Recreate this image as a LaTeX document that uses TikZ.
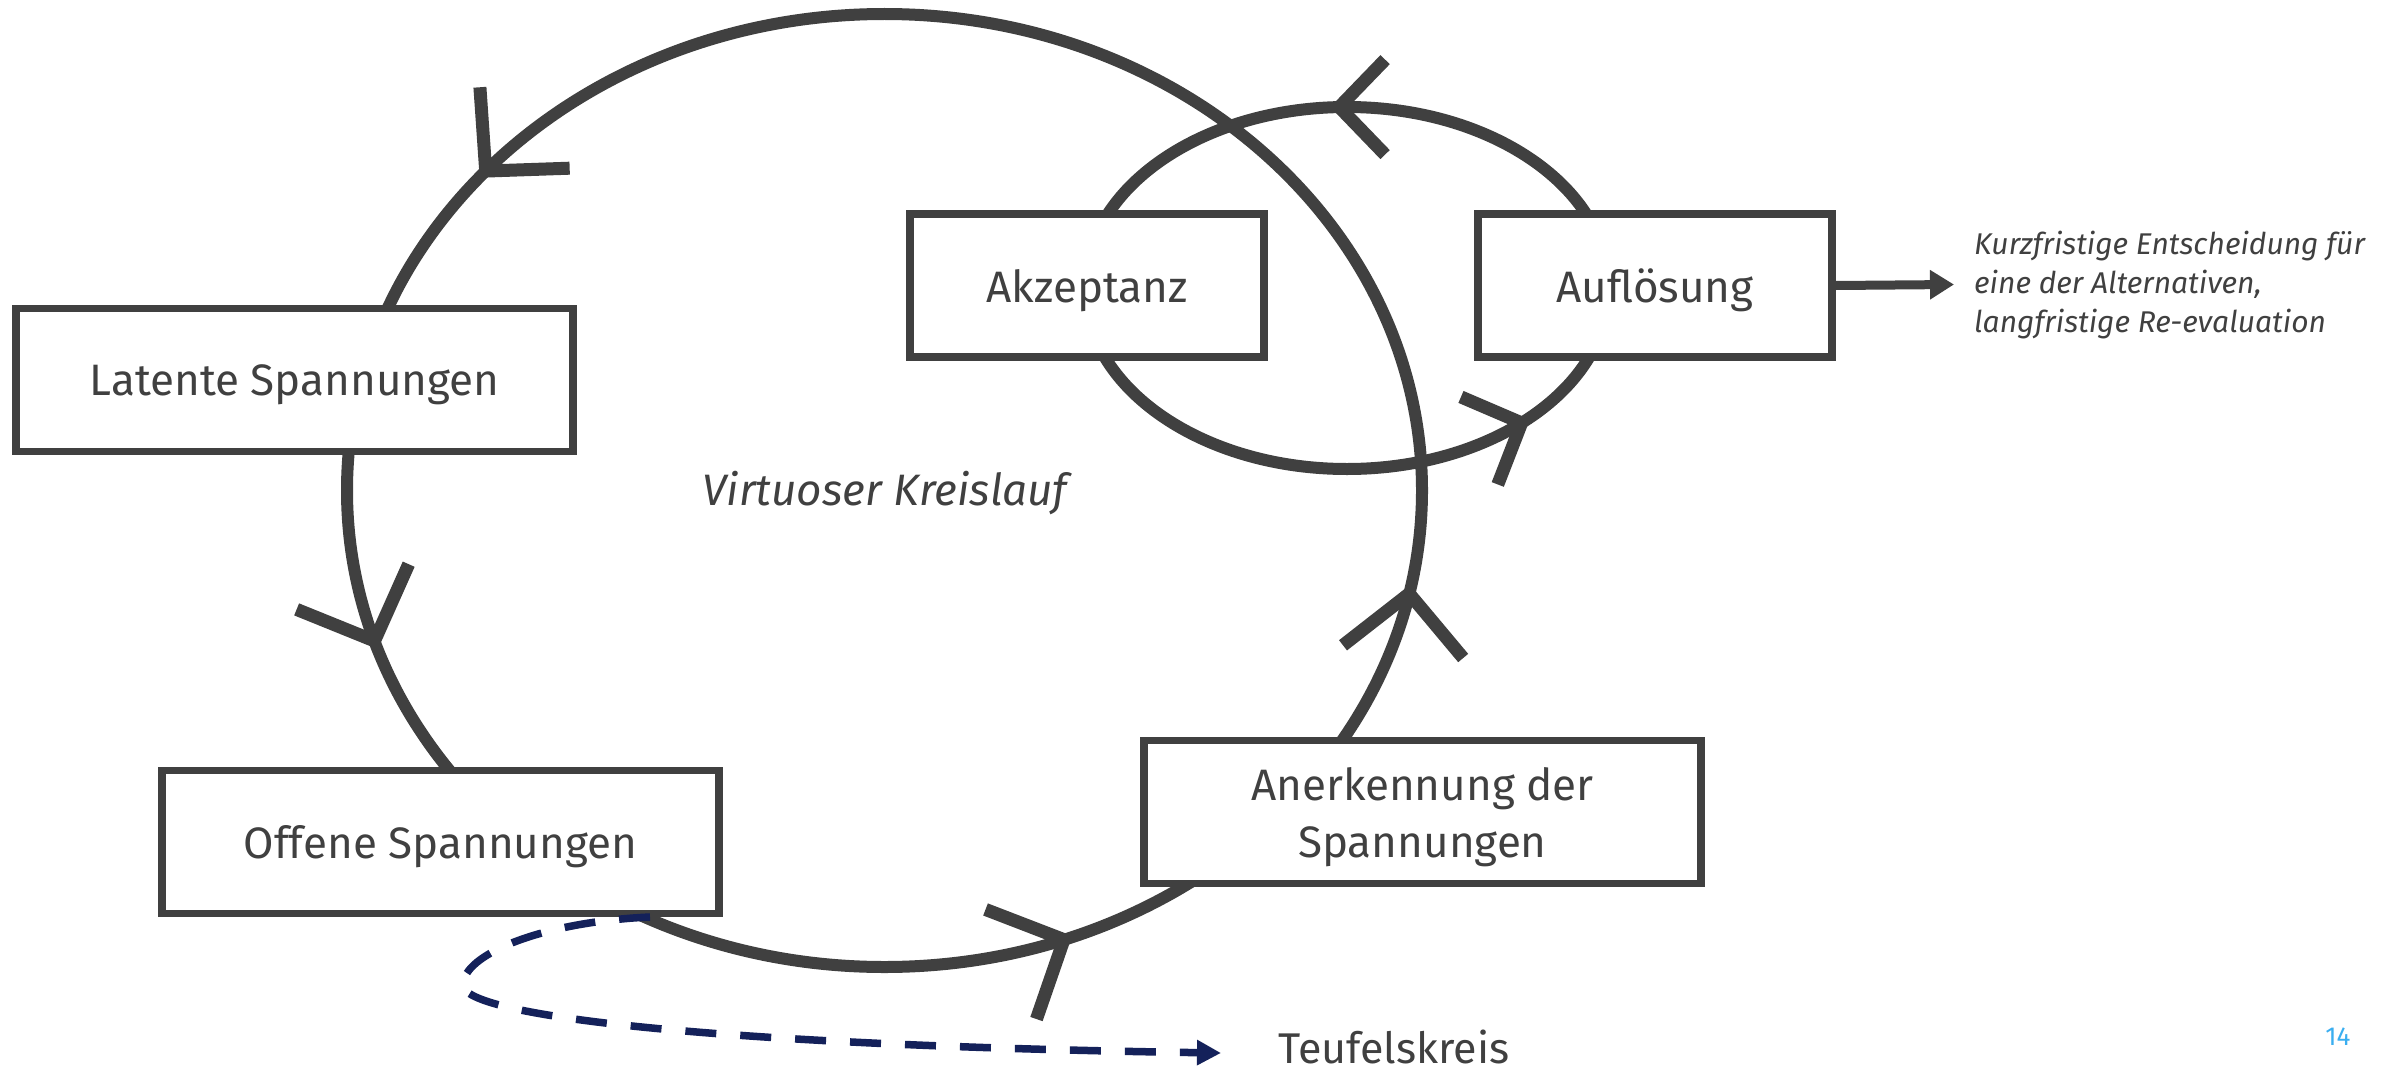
\documentclass[tikz,border=0pt]{standalone}
\usepackage{fontspec}
\setmainfont{Fira Sans}
\usetikzlibrary{arrows.meta}
\definecolor{ink}{HTML}{404040}
\definecolor{navy}{HTML}{14215A}
\definecolor{pagenum}{HTML}{3AAEF0}

\tikzset{
  loopline/.style={draw=ink, line width=12pt},
  chevline/.style={draw=ink, line width=13pt, line cap=butt, line join=miter, miter limit=10},
  stagebox/.style={draw=ink, line width=7.5pt, fill=white, text=ink, align=center,
    inner sep=0pt, text depth=0pt, font=\fontsize{44}{57}\selectfont},
  widebox/.style={stagebox, minimum width=557pt, minimum height=143pt},
  narrowbox/.style={stagebox, minimum width=354pt, minimum height=143pt},
  flowarrow/.style={draw=ink, line width=9pt, -{Triangle[length=24pt,width=28pt]}},
  viciousarrow/.style={draw=navy, line width=7.5pt, dash pattern=on 31pt off 24pt,
    -{Triangle[length=24pt,width=24pt]}},
}

% chevron on an ellipse: centre x, centre y, x radius, y radius,
% parameter angle, arm length, extra turn of the head
\newcommand{\loopchevron}[7]{%
  \begin{scope}[shift={({#1+#3*cos(#5)},{#2-#4*sin(#5)})},
                rotate={atan2(-(#4)*cos(#5),(#3)*sin(#5))+#7}]
    \draw[chevline] ({#6*cos(46)},{#6*sin(46)}) -- (0,0) -- ({#6*cos(46)},{-#6*sin(46)});
  \end{scope}}

\begin{document}
\begin{tikzpicture}[x=1pt,y=-1pt]
\path[use as bounding box, fill=white] (0,0) rectangle (2394,1073);

% virtuous cycle and the short loop around acceptance and resolution
\draw[loopline] (884.5,490.5) ellipse [x radius=537.5, y radius=476.5];
\draw[loopline] (1347,288) ellipse [x radius=262, y radius=181];

\loopchevron{884.5}{490.5}{537.5}{476.5}{137.9}{84}{3.5}
\loopchevron{884.5}{490.5}{537.5}{476.5}{198.4}{84}{1.4}
\loopchevron{884.5}{490.5}{537.5}{476.5}{289.5}{84}{7.5}
\loopchevron{884.5}{490.5}{537.5}{476.5}{347.5}{84}{8}
\loopchevron{1347}{288}{262}{181}{91.7}{66}{-1.2}
\loopchevron{1347}{288}{262}{181}{311.8}{66}{-8.9}

% stages
\node[widebox] (latent) at (294.5,380) {Latente Spannungen};
\node[widebox] (open) at (440.5,842) {Offene Spannungen};
\node[widebox] (ack) at (1422.5,812) {Anerkennung der\\Spannungen};
\node[narrowbox] (accept) at (1087,285.5) {Akzeptanz};
\node[narrowbox] (resolve) at (1655,285.5) {Auflösung};

\node[text=ink, font=\fontsize{44}{53}\selectfont\itshape] (virt) at (885,493) {Virtuoser Kreislauf};

% outcome of the resolution
\node[text=ink, anchor=west, align=left, inner sep=0pt,
      font=\fontsize{30}{39}\selectfont\itshape] (note) at (1974,285)
  {Kurzfristige Entscheidung für\\eine der Alternativen,\\langfristige Re-evaluation};
\coordinate (noteTip) at (1954,284.5);
\draw[flowarrow] (resolve.east) -- (noteTip);

% vicious circle branching off the open tensions
\node[text=ink, anchor=west, inner sep=0pt, font=\fontsize{43}{52}\selectfont] (teufel) at (1278,1047) {Teufelskreis};
\coordinate (viciousStart) at (650,917);
\coordinate (viciousEnd) at (1221,1053);
\draw[viciousarrow] (viciousStart) .. controls (540,922) and (463,955) .. (463,985)
  .. controls (463,1015) and (700,1045) .. (viciousEnd);

\node[text=pagenum, font=\fontsize{26}{30}\selectfont] (page) at (2338,1037) {14};
\end{tikzpicture}
\end{document}
